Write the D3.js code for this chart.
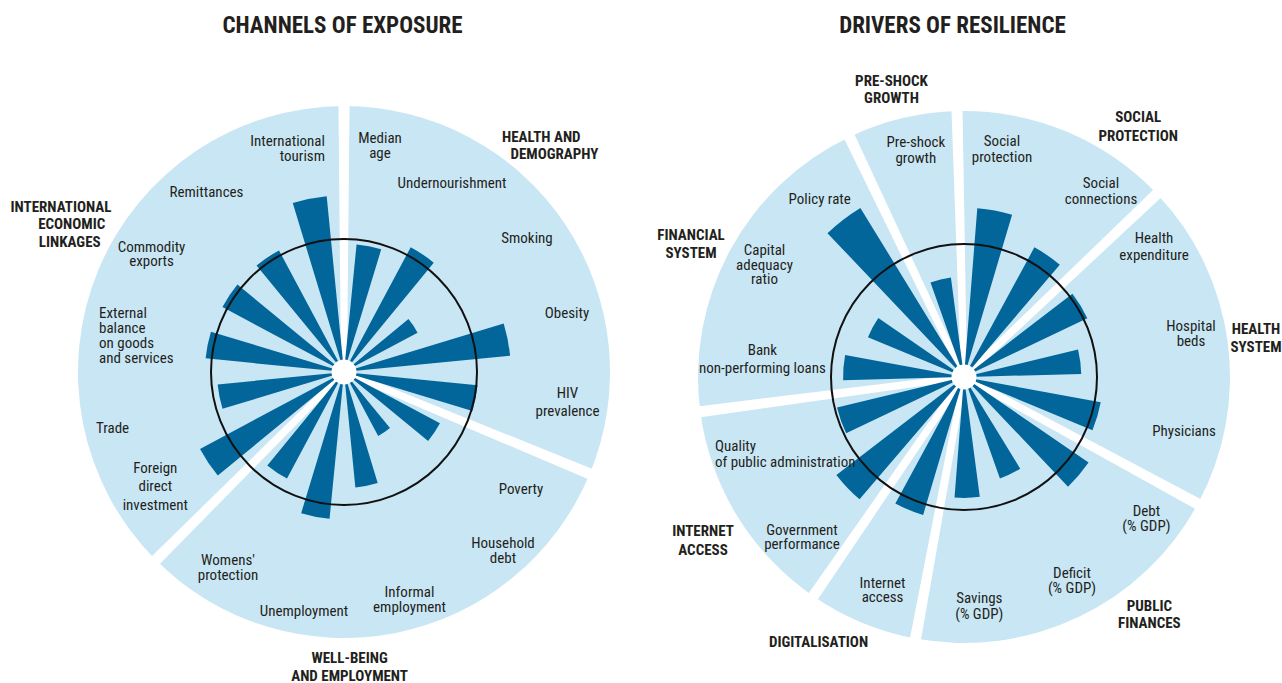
<!DOCTYPE html>
<html>
<head>
<meta charset="utf-8">
<script src="https://cdn.jsdelivr.net/npm/d3@7"></script>
<style>
  body { margin: 0; background: #ffffff; }
  svg text { font-family: "Liberation Sans Narrow", "Arial Narrow", "Roboto Condensed", sans-serif; fill: #231f20; }
</style>
</head>
<body>
<svg id="chart" width="1282" height="683"></svg>
<script>
// ---------------- DATA ----------------
// Channels of exposure (clockwise from 12 o'clock)
const exposureIndicators = [
  "Median\nage", "Undernourishment", "Smoking", "Obesity", "HIV\nprevalence",
  "Poverty", "Household\ndebt", "Informal\nemployment", "Unemployment", "Womens'\nprotection",
  "Foreign\ndirect\ninvestment", "Trade", "External\nbalance\non goods\nand services",
  "Commodity\nexports", "Remittances", "International\ntourism"
];
const exposureValues = [96, 107, 59, 128, 101, 80, 50, 86, 112, 90, 125, 95, 105, 104, 104, 136];
const exposureGroups = ["HEALTH AND\nDEMOGRAPHY", "WELL-BEING\nAND EMPLOYMENT", "INTERNATIONAL\nECONOMIC\nLINKAGES"];
const exposureGroupSizes = [5, 5, 6];

// Drivers of resilience (clockwise from 12 o'clock)
const resilienceIndicators = [
  "Social\nprotection", "Social\nconnections", "Health\nexpenditure", "Hospital\nbeds", "Physicians",
  "Debt\n(% GDP)", "Deficit\n(% GDP)", "Savings\n(% GDP)", "Internet\naccess",
  "Government\nperformance", "Quality\nof public administration", "Bank\nnon-performing loans",
  "Capital\nadequacy\nratio", "Policy rate", "Pre-shock\ngrowth"
];
const resilienceValues = [130, 112, 103, 87, 105, 115, 79, 90, 109, 123, 98, 90, 76, 154, 73];
const resilienceGroups = ["SOCIAL\nPROTECTION", "HEALTH\nSYSTEM", "PUBLIC\nFINANCES", "DIGITALISATION",
  "INTERNET\nACCESS", "FINANCIAL\nSYSTEM", "PRE-SHOCK\nGROWTH"];
const resilienceGroupSizes = [2, 3, 3, 1, 2, 3, 1];

const benchmarkValue = 100;   // black reference circle
const titles = ["CHANNELS OF EXPOSURE", "DRIVERS OF RESILIENCE"];

// ---------------- LAYOUT ----------------
// label offsets from chart centre: [dx, dy(first baseline), anchor, lineHeight, optional per-line dx]
const layout = [
  {
    cx: 344, cy: 372, rotate: 0, title: [342.5, 33],
    labels: [
      [36, -229, "middle", 15], [108, -184, "middle", 15], [183, -129, "middle", 15], [223, -54, "middle", 15],
      [223.5, 26, "middle", 18], [177, 122, "middle", 15], [159, 176, "middle", 14.5], [65.5, 225, "middle", 15],
      [-40, 244, "middle", 15], [-116, 193, "middle", 15], [-188.7, 101, "middle", 18.3], [-231.5, 61, "middle", 15],
      [-245, -54, "start", 15], [-192.5, -120.5, "middle", 14.5], [-137.5, -175, "middle", 15], [-19, -226, "end", 14.7]
    ],
    groupLabels: [
      [204, -230.3, "middle", 17.6, [197.3, 210.5]], [5.6, 291, "middle", 17.5], [-277, -160.3, "middle", 17.5, [-283, -272.3, -274.3]]
    ]
  },
  {
    cx: 964, cy: 377, rotate: -1.5, title: [952.5, 33],
    labels: [
      [38, -231, "middle", 15.5], [137, -189.4, "middle", 16], [190, -134, "middle", 16.7], [227, -46, "middle", 15],
      [220, 58.5, "middle", 15], [182.4, 138.8, "middle", 15], [108, 201, "middle", 15], [15.3, 226, "middle", 15.5],
      [-81.5, 211.3, "middle", 14], [-162, 157.7, "middle", 14.3], [-249, 74.4, "start", 15.6],
      [-201.6, -22.1, "middle", 17.7], [-199.5, -122, "middle", 14.7], [-144.3, -173, "middle", 15],
      [-48.2, -229.7, "middle", 16]
    ],
    groupLabels: [
      [174.2, -254.8, "middle", 18.5], [292, -43, "middle", 18], [185.4, 234.2, "middle", 16.7],
      [-145.5, 270, "middle", 18], [-261, 159, "middle", 19], [-273, -137, "middle", 18.3], [-72.5, -291, "middle", 17.3]
    ]
  }
];

const COLORS = { bg: "#c9e6f4", bar: "#02669b", ring: "#111111", text: "#231f20" };
const OUTER_R = 266, INNER_R = 12.5;

const svg = d3.select("#chart");

function multiline(sel, text, anchor, lh, xs) {
  const lines = text.split("\n");
  sel.attr("text-anchor", anchor);
  lines.forEach((ln, i) => {
    sel.append("tspan").attr("x", xs ? xs[i] : sel.attr("x")).attr("dy", i === 0 ? 0 : lh).text(ln);
  });
}

function drawChart(indicators, values, groups, sizes, lay, title) {
  const g = svg.append("g").attr("transform", `translate(${lay.cx},${lay.cy})`);
  const rot = lay.rotate * Math.PI / 180;
  const angle = d3.scaleBand().domain(indicators).range([0, 2 * Math.PI]).paddingInner(0.5).paddingOuter(0.25);
  const step = angle.step();
  const r = d3.scaleLinear().domain([0, benchmarkValue]).range([INNER_R - 0.5, 133]);

  // sectors
  let idx = 0;
  const sectors = sizes.map((s, k) => { const a0 = idx * step; idx += s; return { name: groups[k], start: a0 + rot, end: idx * step + rot }; });
  const bgArc = d3.arc().innerRadius(0).outerRadius(OUTER_R);
  g.selectAll("path.bg").data(sectors).join("path").attr("class", "bg")
    .attr("d", d => bgArc({ startAngle: d.start, endAngle: d.end }))
    .attr("fill", COLORS.bg);

  // white gaps between sectors (slightly widening outwards)
  const gapPath = a => {
    const u = [Math.sin(a), -Math.cos(a)], p = [Math.cos(a), Math.sin(a)];
    const w0 = 3, w1 = 5.6, R = OUTER_R + 6;
    return d3.line()([
      [p[0] * w0, p[1] * w0],
      [u[0] * R + p[0] * w1, u[1] * R + p[1] * w1],
      [u[0] * R - p[0] * w1, u[1] * R - p[1] * w1],
      [-p[0] * w0, -p[1] * w0]
    ]) + "Z";
  };
  g.selectAll("path.gap").data(sectors).join("path").attr("class", "gap")
    .attr("d", d => gapPath(d.start)).attr("fill", "#ffffff");

  // bars
  const data = indicators.map((name, i) => ({ name, value: values[i] }));
  const barArc = d3.arc()
    .innerRadius(r(0))
    .outerRadius(d => r(d.value))
    .startAngle(d => angle(d.name) + rot)
    .endAngle(d => angle(d.name) + angle.bandwidth() + rot);
  g.selectAll("path.bar").data(data).join("path").attr("class", "bar")
    .attr("d", barArc).attr("fill", COLORS.bar);

  // benchmark ring
  g.append("circle").attr("r", r(benchmarkValue)).attr("fill", "none")
    .attr("stroke", COLORS.ring).attr("stroke-width", 2);
  // hub
  g.append("circle").attr("r", INNER_R).attr("fill", "#ffffff");

  // indicator labels
  data.forEach((d, i) => {
    const [dx, dy, anchor, lh] = lay.labels[i];
    const t = g.append("text").attr("x", dx).attr("y", dy).style("font-size", "15px");
    multiline(t, d.name, anchor, lh);
  });
  // group labels
  groups.forEach((name, i) => {
    const [dx, dy, anchor, lh, xs] = lay.groupLabels[i];
    const t = g.append("text").attr("x", dx).attr("y", dy)
      .style("font-size", "15px").style("font-weight", "bold");
    multiline(t, name, anchor, lh, xs);
  });

  // title
  svg.append("text").attr("x", lay.title[0]).attr("y", lay.title[1])
    .attr("text-anchor", "middle").style("font-size", "23px").style("font-weight", "bold")
    .text(title);
}

drawChart(exposureIndicators, exposureValues, exposureGroups, exposureGroupSizes, layout[0], titles[0]);
drawChart(resilienceIndicators, resilienceValues, resilienceGroups, resilienceGroupSizes, layout[1], titles[1]);
</script>
</body>
</html>
